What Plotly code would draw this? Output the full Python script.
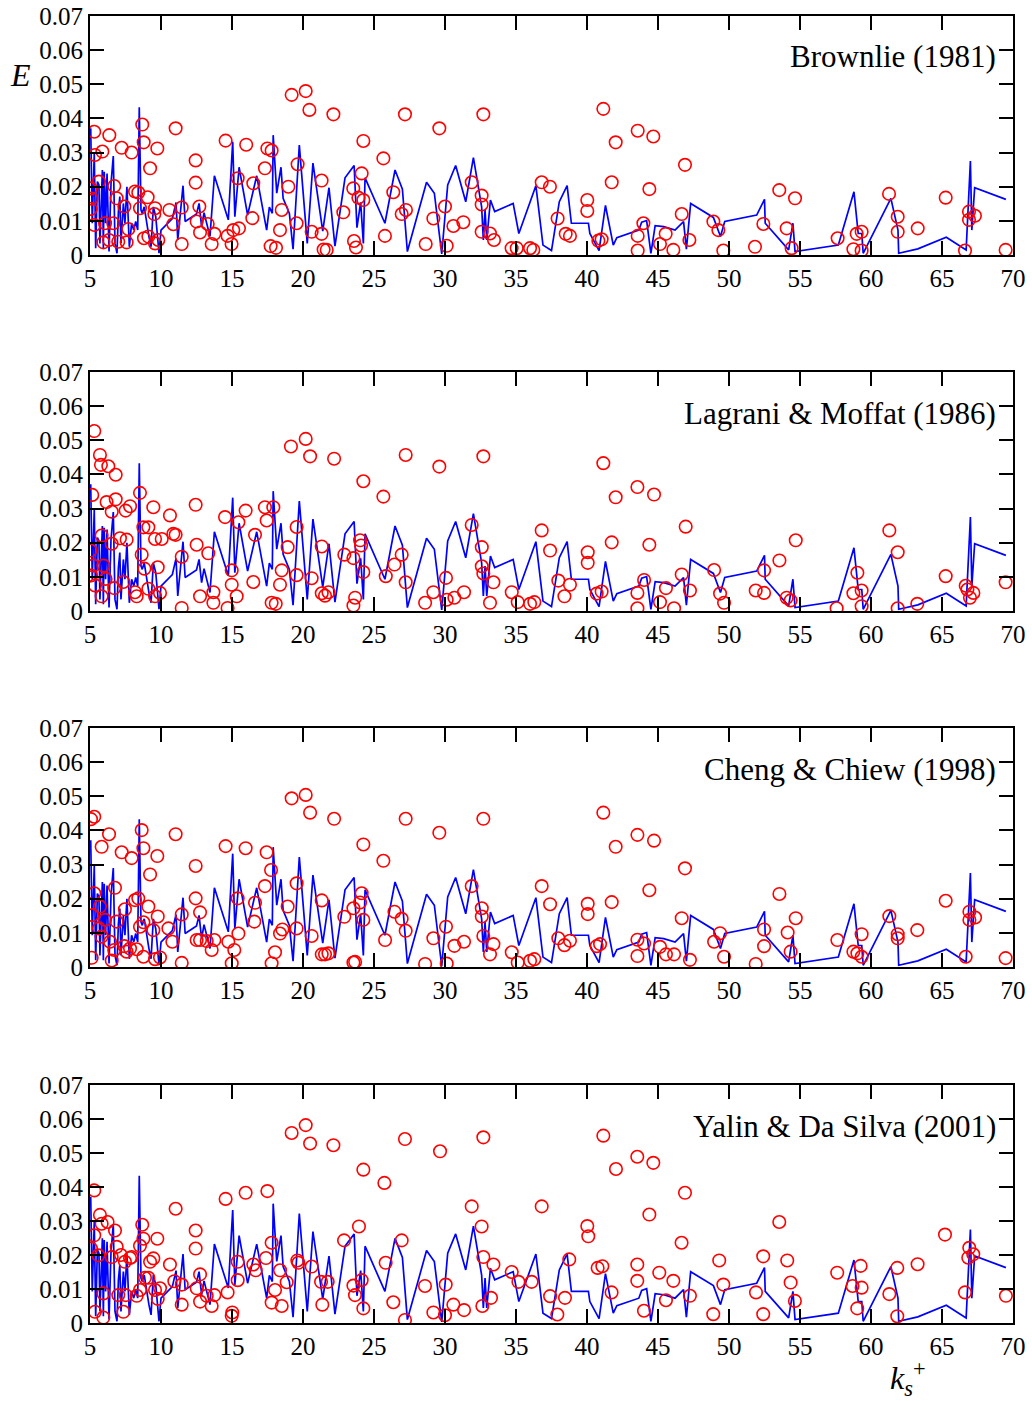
import plotly.graph_objects as go

# ---------------- data ----------------
x_ticks = [5, 10, 15, 20, 25, 30, 35, 40, 45, 50, 55, 60, 65, 70]
y_ticks = [0, 0.01, 0.02, 0.03, 0.04, 0.05, 0.06, 0.07]
y_tick_text = ["0", "0.01", "0.02", "0.03", "0.04", "0.05", "0.06", "0.07"]
panel_titles = ["Brownlie (1981)", "Lagrani &amp; Moffat (1986)",
                "Cheng &amp; Chiew (1998)", "Yalin &amp; Da Silva (2001)"]

line_x = [5.05, 5.16, 5.3, 5.4, 5.52, 5.63, 5.7, 5.87, 5.94, 6.0, 6.1, 6.2, 6.34, 6.48, 6.64,
          6.76, 6.9, 7.0, 7.1, 7.18, 7.35, 7.46, 7.6, 7.77, 7.93, 8.08, 8.22, 8.36, 8.47, 8.59,
          8.68, 8.82, 9.15, 9.3, 9.46, 9.63, 9.86, 10.0, 10.8, 11.06, 11.18, 11.55, 11.7, 12.5,
          12.68, 12.86, 13.03, 13.45, 13.76, 14.74, 15.05, 15.2, 15.5, 16.1, 16.74, 17.44,
          17.63, 17.84, 17.9, 18.15, 18.45, 18.6, 19.04, 19.3, 19.74, 20.3, 20.7, 21.39, 21.83,
          22.25, 22.96, 23.6, 23.8, 24.06, 24.25, 24.37, 25.77, 26.48, 27.0, 27.35, 28.7, 29.25,
          29.77, 30.19, 30.75, 31.46, 32.0, 32.58, 32.7, 32.82, 32.94, 33.2, 33.5, 34.8, 35.2,
          36.4, 36.9, 37.5, 38.05, 38.6, 38.9, 40.1, 40.2, 40.85, 41.3, 41.85, 42.1, 43.65,
          43.85, 44.2, 44.5, 44.8, 45.4, 46.2, 46.8, 47.0, 47.3, 48.9, 49.4, 49.7, 51.95, 52.5,
          52.55, 54.2, 54.5, 54.65, 57.7, 58.8, 59.1, 59.35, 59.45, 61.4, 61.9, 61.95, 63.3,
          65.3, 66.7, 67.0, 67.1, 67.3, 69.5]
line_e = [0.0371, 0.0093, 0.0298, 0.002, 0.0215, 0.0205, 0.0034, 0.0249, 0.002, 0.0244, 0.0093,
          0.0239, 0.001, 0.021, 0.029, 0.0034, 0.0005, 0.0127, 0.0171, 0.0034, 0.0151, 0.0093,
          0.02, 0.0024, 0.0093, 0.0073, 0.0098, 0.0073, 0.0433, 0.0132, 0.0122, 0.0141, 0.0054,
          0.0024, 0.0141, 0.0112, 0.0005, 0.0073, 0.0107, 0.0154, 0.0044, 0.0203, 0.0098, 0.012,
          0.0151, 0.0083, 0.0124, 0.0054, 0.0232, 0.0103, 0.0332, 0.0112, 0.0257, 0.0117, 0.0232,
          0.0073, 0.014, 0.0122, 0.0351, 0.0181, 0.0257, 0.0166, 0.0122, 0.0017, 0.0322, 0.0034,
          0.0269, 0.007, 0.0197, 0.0026, 0.0226, 0.0262, 0.008, 0.0154, 0.0034, 0.0226, 0.0093,
          0.0249, 0.0193, 0.001, 0.0213, 0.0181, 0.0003, 0.0205, 0.0262, 0.0156, 0.0285, 0.0141,
          0.0044, 0.0132, 0.0044, 0.0161, 0.0127, 0.0151, 0.0063, 0.0203, 0.0029, 0.0013, 0.0156,
          0.0203, 0.0093, 0.0093, 0.0063, 0.0013, 0.0145, 0.0029, 0.0051, 0.0073, 0.0096, 0.0101,
          0.0005, 0.0086, 0.0083, 0.0073, 0.0098, 0.0017, 0.0151, 0.011, 0.0054, 0.0098, 0.0117,
          0.0163, 0.0093, 0.0015, 0.0093, 0.001, 0.0029, 0.0185, 0.0063, 0.0063, 0.0005, 0.0166,
          0.0073, 0.0005, 0.0018, 0.0052, 0.0015, 0.0275, 0.0073, 0.0197, 0.0163]

brownlie_x = [5.30, 6.36, 5.35, 5.87, 7.23, 7.93, 8.68, 8.78, 9.74, 9.23, 11.03, 12.44, 12.44,
              14.55, 16.0, 15.40, 16.50, 16.43, 5.63, 6.71, 6.88, 7.42, 8.17, 8.40, 9.06, 8.52,
              9.58, 9.53, 10.59, 11.46, 12.70, 5.30, 6.06, 6.64, 7.70, 6.34, 5.94, 6.99, 7.58,
              8.80, 9.11, 9.81, 9.58, 10.87, 11.46, 12.51, 12.75, 13.29, 13.76, 13.57, 14.69,
              14.97, 15.09, 15.49, 5.05, 5.05, 5.10,
              17.49, 17.79, 17.32, 18.97, 19.62, 19.20, 20.19, 20.45, 22.14, 24.25, 25.66, 27.18,
              29.60, 24.13, 21.31, 23.54, 23.90, 24.25, 18.50, 19.55, 18.38, 20.61, 21.31, 22.84,
              26.36, 26.95, 27.25, 29.18, 30.00, 25.77, 28.64, 17.72, 18.10, 21.67, 21.45, 23.59,
              23.73, 30.12,
              32.70, 31.88, 32.58, 32.58, 30.59, 31.29, 32.58, 33.17, 33.45, 34.69, 35.05, 35.99,
              36.22, 36.81, 37.39, 37.93, 38.50, 38.80, 40.02, 40.02, 40.80, 41.03, 41.15, 42.02,
              41.74, 43.57, 44.67, 44.39, 43.97, 43.57, 43.57, 45.14, 45.54, 46.08, 46.90, 46.67,
              47.21, 48.90, 49.25, 49.60,
              51.83, 52.42, 53.54, 54.65, 54.06, 54.41, 57.65, 58.76, 58.99, 59.34, 59.34, 61.27,
              61.88, 61.88, 63.29, 65.26, 66.62, 66.90, 66.90, 67.32, 69.48]
brownlie_e = [0.0361, 0.0351, 0.0293, 0.0303, 0.0314, 0.0300, 0.0382, 0.0330, 0.0312, 0.0254,
              0.0371, 0.0277, 0.0212, 0.0335, 0.0323, 0.0225, 0.0210, 0.0108, 0.0215, 0.0202,
              0.0166, 0.0142, 0.0186, 0.0183, 0.0169, 0.0137, 0.0137, 0.0120, 0.0132, 0.0139,
              0.0142, 0.0088, 0.0093, 0.0093, 0.0076, 0.0044, 0.0037, 0.0039, 0.0037, 0.0049,
              0.0054, 0.0044, 0.0034, 0.0090, 0.0032, 0.0098, 0.0066, 0.0091, 0.0062, 0.0032,
              0.0056, 0.0032, 0.0073, 0.0078, 0.0195, 0.0135, 0.0165,
              0.0312, 0.0306, 0.0254, 0.0200, 0.0266, 0.0469, 0.0480, 0.0425, 0.0412, 0.0334,
              0.0283, 0.0412, 0.0371, 0.0239, 0.0218, 0.0195, 0.0168, 0.0161, 0.0132, 0.0093,
              0.0073, 0.0068, 0.0062, 0.0125, 0.0184, 0.0120, 0.0132, 0.0107, 0.0142, 0.0056,
              0.0032, 0.0026, 0.0021, 0.0015, 0.0016, 0.0041, 0.0022, 0.0027,
              0.0412, 0.0213, 0.0174, 0.0148, 0.0085, 0.0096, 0.0068, 0.0063, 0.0044, 0.0020,
              0.0020, 0.0020, 0.0015, 0.0213, 0.0200, 0.0107, 0.0062, 0.0056, 0.0161, 0.0129,
              0.0042, 0.0046, 0.0428, 0.0330, 0.0213, 0.0364, 0.0347, 0.0193, 0.0093, 0.0056,
              0.0013, 0.0032, 0.0062, 0.0015, 0.0264, 0.0120, 0.0044, 0.0098, 0.0073, 0.0013,
              0.0024, 0.0091, 0.0190, 0.0166, 0.0078, 0.0020, 0.0049, 0.0017, 0.0062, 0.0068,
              0.0013, 0.0179, 0.0112, 0.0068, 0.0078, 0.0168, 0.0013, 0.0127, 0.0103, 0.0115,
              0.0015]

lagrani_x = [5.30, 5.70, 5.77, 6.29, 6.81, 5.16, 6.17, 6.81, 6.53, 7.51, 7.82, 9.46, 8.52, 10.63,
             10.87, 11.03, 12.44, 14.51, 15.45, 15.96, 16.62, 17.32, 17.91, 17.44, 19.55, 19.15,
             18.92, 18.50, 18.38, 19.55, 5.82, 7.11, 7.58, 6.53, 8.76, 9.11, 9.58, 10.05, 8.64,
             8.83, 9.77, 11.46, 12.51, 13.33, 14.98, 14.98, 16.50, 15.33, 12.75, 13.69, 13.69,
             14.69, 11.46, 17.79, 18.08, 5.82, 6.71, 7.35, 8.17, 8.29, 9.11, 9.93, 9.58, 5.03,
             5.07, 5.23, 5.35, 5.94, 6.10,
             20.19, 20.50, 22.19, 24.25, 25.66, 27.23, 29.60, 32.70, 21.32, 22.91, 23.55, 24.02,
             24.09, 24.25, 20.61, 25.83, 26.44, 26.95, 27.23, 31.88, 32.59, 32.59, 32.70, 33.41,
             36.81, 37.40, 37.98, 38.41, 21.32, 21.55, 21.79, 23.67, 23.55, 28.60, 29.18, 30.07,
             30.12, 30.66, 31.34, 33.17, 34.70, 35.12, 35.99, 36.29,
             38.80, 40.05, 40.05, 41.15, 41.74, 42.02, 40.68, 41.03, 43.55, 44.72, 44.39, 43.55,
             43.55, 44.02, 45.14, 45.56, 46.13, 46.67, 46.95, 47.25, 48.95, 49.37, 49.65, 51.88,
             52.47, 52.47, 53.55, 54.70, 54.06, 54.34, 57.58, 58.76, 59.04, 59.34, 59.34, 61.29,
             61.88, 61.88, 63.26, 65.26, 66.67, 66.97, 67.21, 66.79, 69.48]
lagrani_e = [0.0527, 0.0457, 0.0428, 0.0424, 0.0399, 0.0340, 0.0319, 0.0327, 0.0291, 0.0294,
             0.0307, 0.0304, 0.0346, 0.0280, 0.0226, 0.0223, 0.0311, 0.0275, 0.0260, 0.0294,
             0.0223, 0.0304, 0.0304, 0.0265, 0.0246, 0.0482, 0.0187, 0.0119, 0.0077, 0.0105,
             0.0221, 0.0213, 0.0209, 0.0197, 0.0245, 0.0245, 0.0211, 0.0211, 0.0165, 0.0124,
             0.0128, 0.0159, 0.0194, 0.0169, 0.0119, 0.0077, 0.0085, 0.0043, 0.0043, 0.0055,
             0.0024, 0.0009, 0.0009, 0.0024, 0.0021, 0.0043, 0.0067, 0.0085, 0.0055, 0.0043,
             0.0065, 0.0053, 0.0043, 0.0177, 0.0104, 0.0133, 0.0075, 0.0133, 0.0094,
             0.0504, 0.0453, 0.0446, 0.0380, 0.0335, 0.0457, 0.0423, 0.0453, 0.0189, 0.0165,
             0.0155, 0.0207, 0.0192, 0.0114, 0.0096, 0.0102, 0.0136, 0.0165, 0.0084, 0.0252,
             0.0187, 0.0131, 0.0110, 0.0084, 0.0236, 0.0177, 0.0089, 0.0043, 0.0052, 0.0045,
             0.0055, 0.0039, 0.0016, 0.0024, 0.0055, 0.0097, 0.0033, 0.0039, 0.0055, 0.0024,
             0.0055, 0.0026, 0.0021, 0.0026,
             0.0077, 0.0172, 0.0141, 0.0433, 0.0201, 0.0333, 0.0051, 0.0057, 0.0363, 0.0341,
             0.0194, 0.0053, 0.0008, 0.0091, 0.0026, 0.0067, 0.0008, 0.0107, 0.0247, 0.0060,
             0.0120, 0.0051, 0.0024, 0.0060, 0.0053, 0.0119, 0.0148, 0.0207, 0.0039, 0.0031,
             0.0008, 0.0052, 0.0112, 0.0060, 0.0014, 0.0236, 0.0172, 0.0008, 0.0021, 0.0102,
             0.0074, 0.0039, 0.0053, 0.0063, 0.0084]

cheng_x = [5.30, 5.07, 6.34, 5.82, 7.23, 7.93, 8.64, 8.76, 9.74, 9.23, 11.03, 12.44, 12.44, 14.55,
           15.96, 15.40, 17.44, 17.75, 17.32, 19.20, 19.55, 18.92, 18.55, 18.38, 19.55, 16.62,
           16.57, 15.45, 15.16, 14.74, 18.03, 17.79, 11.46, 14.98, 12.75, 11.46, 12.75, 12.51,
           13.22, 13.76, 13.57, 10.52, 10.80, 9.77, 9.46, 9.11, 8.17, 8.40, 8.52, 8.76, 6.76,
           7.46, 6.88, 5.70, 5.30, 5.16, 5.82, 6.41, 6.71, 7.42, 7.58, 7.82, 8.29, 8.76, 9.58,
           9.93, 5.12, 6.53, 5.63, 6.06,
           20.19, 20.50, 22.19, 24.25, 25.66, 27.23, 29.60, 32.70, 21.32, 22.91, 23.55, 24.02,
           24.13, 24.25, 20.61, 25.78, 26.44, 26.95, 27.23, 31.88, 32.59, 32.59, 32.70, 33.41,
           36.81, 37.40, 37.98, 38.41, 21.32, 21.55, 21.79, 23.55, 23.67, 28.60, 29.18, 30.07,
           30.12, 30.66, 31.34, 33.17, 34.70, 35.12, 35.99, 36.29,
           38.80, 40.05, 40.05, 41.15, 41.74, 42.02, 40.92, 40.68, 43.55, 44.72, 44.39, 46.90,
           43.55, 43.55, 44.02, 45.14, 45.56, 46.13, 46.67, 47.25, 48.95, 49.37, 49.65, 51.88,
           52.47, 52.47, 53.55, 54.70, 54.13, 54.34, 57.63, 58.76, 59.04, 59.34, 59.34, 61.29,
           61.88, 61.88, 63.26, 65.26, 66.67, 66.93, 66.93, 67.33, 69.48]
cheng_e = [0.0440, 0.0433, 0.0389, 0.0352, 0.0336, 0.0319, 0.0401, 0.0348, 0.0325, 0.0271,
           0.0389, 0.0296, 0.0201, 0.0354, 0.0348, 0.0201, 0.0336, 0.0284, 0.0237, 0.0494,
           0.0245, 0.0177, 0.0110, 0.0098, 0.0113, 0.0188, 0.0133, 0.0098, 0.0050, 0.0074,
           0.0043, 0.0011, 0.0012, 0.0011, 0.0160, 0.0154, 0.0079, 0.0079, 0.0076, 0.0079,
           0.0050, 0.0113, 0.0074, 0.0148, 0.0108, 0.0177, 0.0196, 0.0201, 0.0118, 0.0131,
           0.0232, 0.0169, 0.0133, 0.0177, 0.0216, 0.0152, 0.0089, 0.0074, 0.0050, 0.0061,
           0.0045, 0.0054, 0.0052, 0.0030, 0.0023, 0.0028, 0.0027, 0.0019, 0.0113, 0.0138,
           0.0504, 0.0452, 0.0434, 0.0359, 0.0311, 0.0434, 0.0393, 0.0434, 0.0195, 0.0147,
           0.0172, 0.0189, 0.0216, 0.0138, 0.0091, 0.0079, 0.0162, 0.0141, 0.0106, 0.0237,
           0.0172, 0.0148, 0.0091, 0.0067, 0.0237, 0.0184, 0.0084, 0.0064, 0.0037, 0.0037,
           0.0040, 0.0013, 0.0015, 0.0009, 0.0084, 0.0118, 0.0010, 0.0062, 0.0074, 0.0037,
           0.0043, 0.0013, 0.0018, 0.0023,
           0.0077, 0.0185, 0.0155, 0.0452, 0.0190, 0.0352, 0.0067, 0.0061, 0.0387, 0.0370,
           0.0225, 0.0289, 0.0080, 0.0032, 0.0069, 0.0059, 0.0037, 0.0037, 0.0143, 0.0021,
           0.0074, 0.0099, 0.0030, 0.0009, 0.0061, 0.0110, 0.0214, 0.0143, 0.0101, 0.0045,
           0.0079, 0.0045, 0.0040, 0.0096, 0.0030, 0.0149, 0.0096, 0.0084, 0.0108, 0.0194,
           0.0030, 0.0162, 0.0138, 0.0145, 0.0026]

yalin_x = [5.30, 5.70, 6.24, 6.76, 5.30, 5.82, 8.68, 8.76, 9.74, 8.52, 11.03, 12.44, 12.44, 14.55,
           15.96, 17.49, 19.20, 20.19, 20.50, 22.14, 24.25, 27.18, 25.73, 29.65, 32.70, 31.88,
           32.58, 36.81, 23.94, 22.89, 26.95, 17.79, 17.39, 19.60, 19.67, 20.61, 25.82, 32.70,
           33.41, 34.70, 35.17, 36.10, 37.40, 28.59, 30.05, 33.24, 32.63, 30.59, 31.34, 29.18,
           30.00, 27.18, 26.36, 24.25, 23.66, 24.13, 23.55, 21.36, 21.27, 21.74, 18.50, 18.03,
           17.79, 18.38, 18.85, 16.67, 16.50, 15.40, 15.40, 14.69, 15.02, 14.98, 13.57, 13.22,
           13.76, 12.75, 12.51, 12.75, 11.46, 11.46, 10.94, 10.63, 9.93, 9.58, 9.77, 9.23, 9.46,
           8.87, 9.11, 8.52, 8.29, 7.82, 7.93, 7.46, 7.18, 6.88, 6.53, 7.35, 7.51, 6.99, 5.94,
           5.35, 5.94, 5.59, 5.07,
           37.91, 38.45, 38.75, 40.02, 40.09, 40.75, 41.08, 41.15, 41.73, 42.04, 43.54, 44.67,
           43.54, 43.54, 44.01, 44.39, 45.09, 45.56, 46.08, 46.90, 46.66, 47.25, 48.89, 49.31,
           49.60, 51.90, 52.41, 52.41, 53.54, 54.10, 54.34, 54.64, 57.62, 58.70, 59.27, 59.34,
           59.03, 61.29, 61.85, 61.85, 63.28, 65.21, 66.62, 66.92, 66.85, 67.20, 69.50]
yalin_e = [0.0390, 0.0318, 0.0297, 0.0272, 0.0258, 0.0292, 0.0289, 0.0248, 0.0248, 0.0227,
           0.0336, 0.0272, 0.0219, 0.0365, 0.0383, 0.0388, 0.0559, 0.0582, 0.0528, 0.0523,
           0.0451, 0.0541, 0.0412, 0.0505, 0.0546, 0.0343, 0.0284, 0.0343, 0.0284, 0.0243,
           0.0243, 0.0236, 0.0191, 0.0184, 0.0177, 0.0166, 0.0177, 0.0194, 0.0172, 0.0150,
           0.0121, 0.0121, 0.0079, 0.0109, 0.0113, 0.0074, 0.0050, 0.0054, 0.0038, 0.0031,
           0.0023, 0.0009, 0.0061, 0.0043, 0.0082, 0.0126, 0.0110, 0.0054, 0.0121, 0.0121,
           0.0050, 0.0097, 0.0060, 0.0155, 0.0120, 0.0155, 0.0172, 0.0180, 0.0126, 0.0090,
           0.0031, 0.0021, 0.0050, 0.0080, 0.0082, 0.0063, 0.0102, 0.0143, 0.0113, 0.0054,
           0.0123, 0.0172, 0.0102, 0.0097, 0.0071, 0.0180, 0.0190, 0.0133, 0.0133, 0.0097,
           0.0080, 0.0191, 0.0194, 0.0180, 0.0200, 0.0224, 0.0194, 0.0033, 0.0082, 0.0082,
           0.0087, 0.0033, 0.0016, 0.0199, 0.0219,
           0.0025, 0.0074, 0.0187, 0.0285, 0.0255, 0.0162, 0.0167, 0.0551, 0.0090, 0.0453,
           0.0489, 0.0471, 0.0172, 0.0124, 0.0036, 0.0319, 0.0148, 0.0067, 0.0124, 0.0383,
           0.0236, 0.0080, 0.0026, 0.0184, 0.0113, 0.0090, 0.0026, 0.0196, 0.0297, 0.0184,
           0.0119, 0.0065, 0.0148, 0.0109, 0.0168, 0.0104, 0.0043, 0.0085, 0.0162, 0.0020,
           0.0173, 0.0260, 0.0090, 0.0221, 0.0192, 0.0202, 0.0080]

panels_x = [brownlie_x, lagrani_x, cheng_x, yalin_x]
panels_e = [brownlie_e, lagrani_e, cheng_e, yalin_e]

# ---------------- layout geometry ----------------
W, H = 1032, 1401
x_dom = [90 / W, 1013 / W]
panel_px = [(16, 255), (372, 611), (728, 967), (1085, 1323)]  # top, bottom in pixels

FONT = "Liberation Serif"
fig = go.Figure()

for i in range(4):
    xa = "x" if i == 0 else f"x{i + 1}"
    ya = "y" if i == 0 else f"y{i + 1}"
    fig.add_trace(go.Scatter(x=line_x, y=line_e, mode="lines",
                             line=dict(color="#0000ff", width=1.7),
                             xaxis=xa, yaxis=ya, showlegend=False, hoverinfo="skip"))
    fig.add_trace(go.Scatter(x=panels_x[i], y=panels_e[i], mode="markers",
                             marker=dict(symbol="circle-open", size=12.5, color="#ff0000",
                                         line=dict(width=1.6, color="#ff0000")),
                             xaxis=xa, yaxis=ya, showlegend=False, hoverinfo="skip"))
    top, bot = panel_px[i]
    common = dict(showline=True, linecolor="black", linewidth=2, mirror="allticks",
                  ticks="inside", ticklen=14, tickwidth=2, tickcolor="black",
                  showgrid=False, zeroline=False, automargin=False,
                  tickfont=dict(family=FONT, size=25, color="black"))
    xkey = "xaxis" if i == 0 else f"xaxis{i + 1}"
    ykey = "yaxis" if i == 0 else f"yaxis{i + 1}"
    fig.update_layout(**{
        xkey: dict(domain=x_dom, range=[5, 70], tickvals=x_ticks,
                   ticktext=[str(v) for v in x_ticks], anchor=ya, **common),
        ykey: dict(domain=[1 - bot / H, 1 - top / H], range=[0, 0.07],
                   tickvals=y_ticks, ticktext=y_tick_text, anchor=xa, **common),
    })
    fig.add_annotation(text=panel_titles[i], xref="paper", yref="paper",
                       x=998 / W, y=1 - (top + 41) / H, xanchor="right", yanchor="middle",
                       showarrow=False, font=dict(family=FONT, size=31, color="black"))

fig.add_annotation(text="<i>E</i>", xref="paper", yref="paper", x=20 / W, y=1 - 75 / H,
                   xanchor="center", yanchor="middle", showarrow=False,
                   font=dict(family=FONT, size=32, color="black"))
fig.add_annotation(text="<i>k<sub>s</sub></i><sup>+</sup>", xref="paper", yref="paper",
                   x=908 / W, y=1 - 1378 / H, xanchor="center", yanchor="middle",
                   showarrow=False, font=dict(family=FONT, size=32, color="black"))

fig.update_layout(width=W, height=H, margin=dict(l=0, r=0, t=0, b=0, autoexpand=False),
                  paper_bgcolor="white", plot_bgcolor="white", hovermode=False)

fig.write_html(
    "out.html",
    config={"displayModeBar": False, "staticPlot": True},
    post_script=(
        "document.documentElement.style.margin='0';"
        "document.documentElement.style.overflow='hidden';"
        "document.body.style.margin='0';"
        "document.body.style.overflow='hidden';"
        "document.body.style.height='1401px';"
        "var gd=document.getElementById('{plot_id}');"
        "gd.style.position='fixed';gd.style.left='0px';gd.style.top='0px';"
    ),
)
